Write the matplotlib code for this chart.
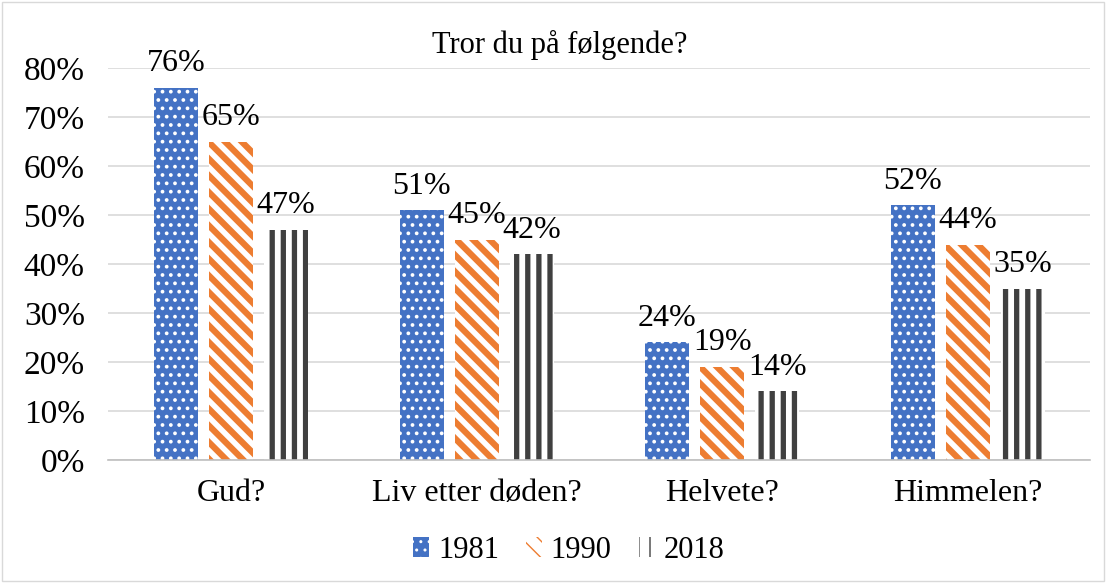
import numpy as np
import matplotlib.hatch as mhatch
from matplotlib import pyplot as plt
from matplotlib.patches import Rectangle

plt.rcParams["font.family"] = ["Liberation Serif", "DejaVu Serif"]

categories = ["Gud?", "Liv etter døden?", "Helvete?", "Himmelen?"]
years = ["1981", "1990", "2018"]
values_1981 = [76, 51, 24, 52]
values_1990 = [65, 45, 19, 44]
values_2018 = [47, 42, 14, 35]


# wider vertical stripes than '||' gives ('!' -> 9 lines per hatch unit)
class WideVerticalHatch(mhatch.VerticalHatch):
    def __init__(self, hatch, density):
        self.num_lines = int(hatch.count("!") * density * 1.5)
        self.num_vertices = self.num_lines * 2


mhatch._hatch_types.append(WideVerticalHatch)

series = [values_1981, values_1990, values_2018]
faces = ["#4472C4", "white", "white"]
hatch_colors = ["white", "#ED7D31", "#404040"]
hatches = ["..", "\\\\", "!"]
hatch_widths = [1.5, 4.5, 3.8]

fig = plt.figure(figsize=(11.07, 5.83), dpi=100)
ax = fig.add_axes([0.098, 0.211, 0.887, 0.672])

x = np.arange(len(categories))
width = 0.18
offset = 0.224

for i, (vals, year) in enumerate(zip(series, years)):
    bars = ax.bar(
        x + (i - 1) * offset,
        vals,
        width,
        color=faces[i],
        edgecolor=hatch_colors[i],
        linewidth=0,
        hatch=hatches[i],
        label=year,
        zorder=2,
    )
    for b in bars:
        if hasattr(b, "set_hatch_linewidth"):
            b.set_hatch_linewidth(hatch_widths[i])
    for b, v in zip(bars, vals):
        ax.annotate(
            f"{v}%",
            (b.get_x() + b.get_width() / 2, v),
            xytext=(0, 7),
            textcoords="offset points",
            ha="center",
            va="bottom",
            fontsize=23,
            zorder=3,
        )

ax.set_ylim(0, 80)
ax.set_xlim(-0.5, 3.5)
ax.set_yticks(range(0, 81, 10))
ax.set_yticklabels([f"{t}%" for t in range(0, 81, 10)], fontsize=24)
ax.set_xticks(x)
ax.set_xticklabels(categories, fontsize=23)
ax.tick_params(axis="y", length=0, pad=17)
ax.tick_params(axis="x", length=0, pad=14)
ax.grid(axis="y", color="#D9D9D9", linewidth=1.2, zorder=0)
for s in ["left", "right", "top"]:
    ax.spines[s].set_visible(False)
ax.spines["bottom"].set_color("#BFBFBF")
ax.spines["bottom"].set_linewidth(1.2)

fig.text(0.506, 0.922, "Tror du på følgende?", ha="center", va="center", fontsize=22)

leg = fig.legend(
    loc="center",
    bbox_to_anchor=(0.514, 0.056),
    ncol=3,
    frameon=False,
    fontsize=22,
    handlelength=0.5,
    handleheight=0.6,
    handletextpad=0.3,
    columnspacing=0.9,
)

fig.add_artist(Rectangle((0.002, 0.003), 0.995, 0.993, transform=fig.transFigure,
                         fill=False, edgecolor="#D9D9D9", linewidth=1))

fig.savefig("out.png", dpi=100)
